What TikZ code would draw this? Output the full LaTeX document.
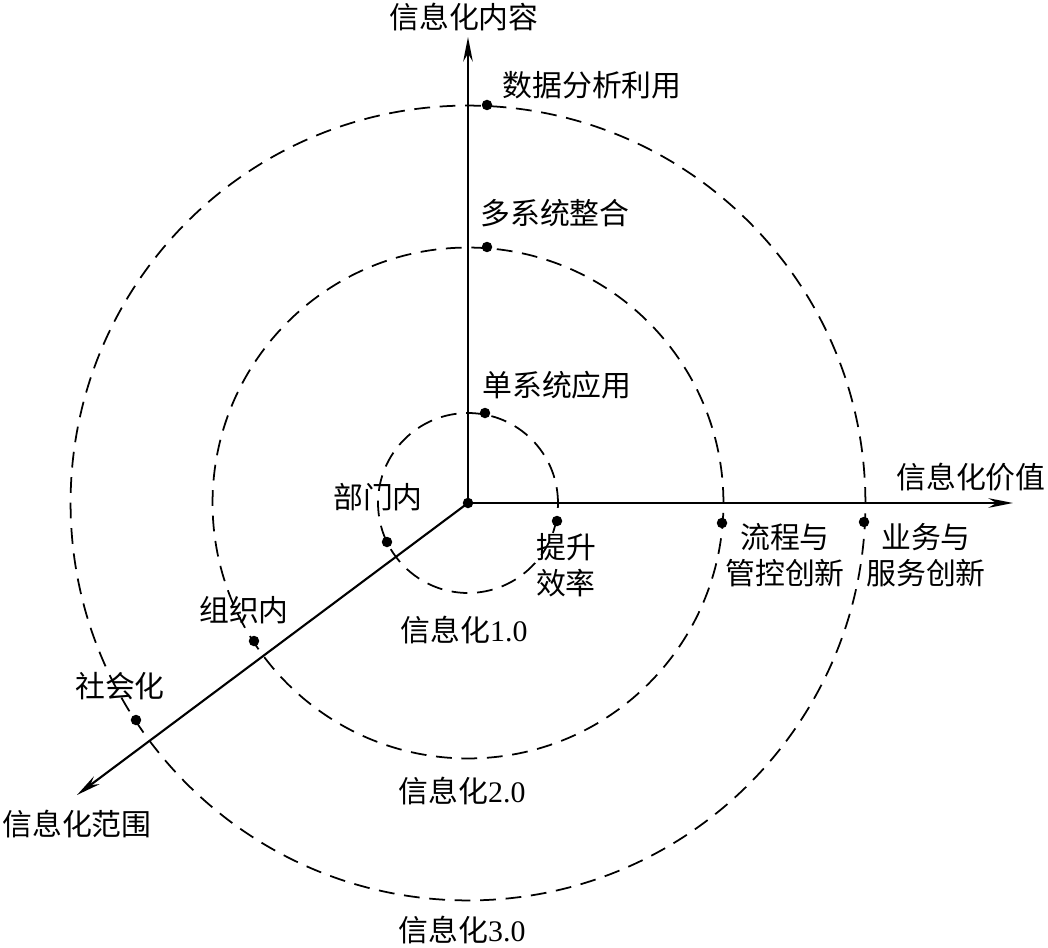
\documentclass[tikz,border=0pt]{standalone}
\usepackage{fontspec}
\setmainfont{Liberation Serif}
\newfontfamily\cjk{Noto Sans CJK SC}
\usetikzlibrary{arrows.meta}

\begin{document}
\begin{tikzpicture}[x=0.02cm, y=0.02cm,
        axis/.style={-{Stealth[length=14pt, width=5.5pt]}, line width=1.2pt},
        ring/.style={dash pattern=on 9pt off 5.5pt, line width=1pt},
        dot/.style={circle, fill=black, inner sep=0pt, minimum size=0.21cm},
        tag/.style={font=\cjk\fontsize{17}{20.5}\selectfont, align=center, inner sep=0pt},
      ]
      \useasboundingbox (-468,-444) rectangle (580,503);
      \node [dot] (O) at (0,0) {};
      \coordinate (contend) at (0,466);
      \coordinate (valend) at (545,0);
      \coordinate (scopeend) at (-391,-292);
      % three stages
      \draw [ring] (O.center) circle [radius=1.8cm];
      \draw [ring] (O.center) circle [radius=5.11cm];
      \draw [ring] (O.center) circle [radius=7.95cm];
      \draw [axis] (O.center) -- (contend);
      \draw [axis] (O.center) -- (valend);
      \draw [axis] (O.center) -- (scopeend);
      % points on the rings
      \node [dot] (single) at (17,90) {};
      \node [dot] (multi) at (19,256) {};
      \node [dot] (data) at (19,398) {};
      \node [dot] (eff) at (89,-18) {};
      \node [dot] (proc) at (254,-20) {};
      \node [dot] (biz) at (396,-19) {};
      \node [dot] (dept) at (-81,-39) {};
      \node [dot] (org) at (-214,-138) {};
      \node [dot] (soc) at (-332,-217) {};
      % texts
      \node [tag] (contlbl) at (-4,486) {信息化内容};
      \node [tag] (vallbl) at (503,26) {信息化价值};
      \node [tag] (scopelbl) at (-391,-321) {信息化范围};
      \node [tag] (datalbl) at (124,418) {数据分析利用};
      \node [tag] (multilbl) at (87,290) {多系统整合};
      \node [tag] (singlelbl) at (89,118) {单系统应用};
      \node [tag] (efflbl) at (98,-62) {提升\\效率};
      \node [tag] (proclbl) at (317,-52) {流程与\\管控创新};
      \node [tag] (bizlbl) at (458,-52) {业务与\\服务创新};
      \node [tag] (deptlbl) at (-90,6) {部门内};
      \node [tag] (orglbl) at (-224,-107) {组织内};
      \node [tag] (soclbl) at (-348,-183) {社会化};
      \node [tag] (v1) at (-4,-127) {信息化{\rmfamily 1.0}};
      \node [tag] (v2) at (-6,-288) {信息化{\rmfamily 2.0}};
      \node [tag] (v3) at (-6,-427) {信息化{\rmfamily 3.0}};
    \end{tikzpicture}
\end{document}
